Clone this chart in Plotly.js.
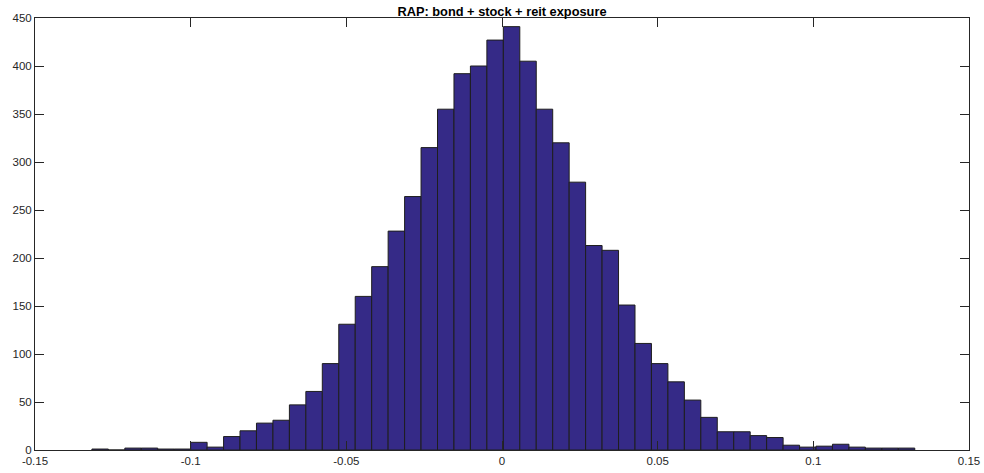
<!DOCTYPE html>
<html>
<head>
<meta charset="utf-8">
<script src="https://cdn.plot.ly/plotly-3.0.1.min.js"></script>
<style>
html,body{margin:0;padding:0;background:#fff;}
#chart{width:984px;height:473px;}
</style>
</head>
<body>
<div id="chart"></div>
<script>
// Histogram bin definition and counts
const binStart = -0.13172;
const binWidth = 0.005286;
const counts = [
  1, 0, 2, 2, 1, 1, 8, 3, 14, 20,
  28, 31, 47, 61, 90, 131, 160, 191, 228, 264,
  315, 355, 392, 400, 427, 441, 405, 355, 320, 279,
  213, 208, 151, 111, 90, 71, 52, 34, 19, 19,
  15, 13, 5, 3, 4, 6, 3, 2, 2, 2
];
const xTickVals = [-0.15, -0.1, -0.05, 0, 0.05, 0.1, 0.15];
const xTickText = ["-0.15", "-0.1", "-0.05", "0", "0.05", "0.1", "0.15"];
const yTickVals = [0, 50, 100, 150, 200, 250, 300, 350, 400, 450];
const yTickText = ["0", "50", "100", "150", "200", "250", "300", "350", "400", "450"];
const titleText = "RAP: bond + stock + reit exposure";

const centers = counts.map((_, i) => binStart + (i + 0.5) * binWidth);

const axisColor = "#262626";
const font = {family: "Liberation Sans, Arial, Helvetica, sans-serif", size: 11.5, color: axisColor};

const trace = {
  type: "bar",
  x: centers,
  y: counts,
  width: binWidth,
  marker: {color: "#352a87", line: {color: "#1e1e1e", width: 1}},
  hoverinfo: "x+y"
};

const layout = {
  width: 984,
  height: 473,
  margin: {l: 35, r: 15, t: 18, b: 23, pad: 0},
  paper_bgcolor: "#ffffff",
  plot_bgcolor: "#ffffff",
  showlegend: false,
  bargap: 0,
  font: font,
  title: {
    text: "<b>" + titleText + "</b>",
    font: {family: "Liberation Sans, Arial, Helvetica, sans-serif", size: 12.8, color: "#000"},
    x: 0.5, xref: "paper", xanchor: "center",
    y: 1, yref: "paper", yanchor: "bottom", pad: {b: 2}
  },
  xaxis: {
    range: [-0.15, 0.15],
    tickmode: "array",
    tickvals: xTickVals,
    ticktext: xTickText,
    ticks: "inside",
    ticklen: 9,
    tickwidth: 1,
    tickcolor: axisColor,
    showline: true,
    linecolor: axisColor,
    linewidth: 1,
    mirror: "ticks",
    showgrid: false,
    zeroline: false,
    tickfont: font
  },
  yaxis: {
    range: [0, 450],
    tickmode: "array",
    tickvals: yTickVals,
    ticktext: yTickText,
    ticks: "inside",
    ticklen: 9,
    tickwidth: 1,
    tickcolor: axisColor,
    showline: true,
    linecolor: axisColor,
    linewidth: 1,
    mirror: "ticks",
    showgrid: false,
    zeroline: false,
    tickfont: font
  }
};

Plotly.newPlot("chart", [trace], layout, {staticPlot: true, displayModeBar: false});
</script>
</body>
</html>
